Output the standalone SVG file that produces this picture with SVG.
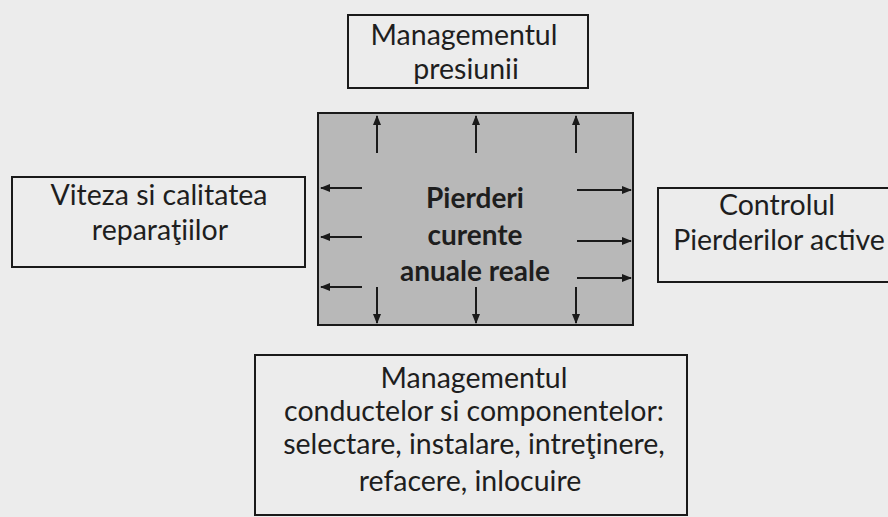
<svg xmlns="http://www.w3.org/2000/svg" width="888" height="517" viewBox="0 0 888 517">
<defs>
<marker id="ah" markerWidth="10" markerHeight="8" refX="9" refY="4" orient="auto" markerUnits="userSpaceOnUse">
<path d="M0,0 L10,4 L0,8 Z" fill="#1a1a1a"/>
</marker>
</defs>
<style>
.box{fill:none;stroke:#1a1a1a;stroke-width:2}
.t{font-family:Lato,"Liberation Sans",sans-serif;font-size:28.5px;fill:#1e1e1e;text-anchor:middle}
.b{font-weight:bold;font-size:28px}
.a{stroke:#1a1a1a;stroke-width:2;fill:none;marker-end:url(#ah)}
</style>
<rect width="888" height="517" fill="#ececec"/>
<g id="center">
<rect x="318" y="113" width="315" height="212" fill="#b8b8b8" stroke="#1a1a1a" stroke-width="2"/>
<text class="t b" x="475" y="208">Pierderi</text>
<text class="t b" x="475" y="245">curente</text>
<text class="t b" x="475" y="281">anuale reale</text>
</g>
<g id="top">
<rect class="box" x="348" y="15" width="240" height="73"/>
<text class="t" x="464" y="45">Managementul</text>
<text class="t" x="466" y="79">presiunii</text>
</g>
<g id="left">
<rect class="box" x="12" y="177" width="293" height="90"/>
<text class="t" x="159" y="205">Viteza si  calitatea</text>
<text class="t" x="160" y="240">reparaţiilor</text>
</g>
<g id="right">
<rect class="box" x="658" y="188" width="240" height="94"/>
<text class="t" x="777" y="215">Controlul</text>
<text class="t" x="779" y="250">Pierderilor active</text>
</g>
<g id="bottom">
<rect class="box" x="255" y="355" width="432" height="160"/>
<text class="t" x="474" y="388">Managementul</text>
<text class="t" x="474" y="421">conductelor si componentelor:</text>
<text class="t" x="474" y="454">selectare, instalare, intreţinere,</text>
<text class="t" x="470" y="491">refacere, inlocuire</text>
</g>
<g id="connectors">
<line class="a" x1="377" y1="153" x2="377" y2="116"/>
<line class="a" x1="476" y1="153" x2="476" y2="116"/>
<line class="a" x1="576" y1="153" x2="576" y2="116"/>
<line class="a" x1="377" y1="287" x2="377" y2="323"/>
<line class="a" x1="476" y1="287" x2="476" y2="323"/>
<line class="a" x1="576" y1="287" x2="576" y2="323"/>
<line class="a" x1="362" y1="188" x2="321" y2="188"/>
<line class="a" x1="362" y1="237" x2="321" y2="237"/>
<line class="a" x1="362" y1="287" x2="321" y2="287"/>
<line class="a" x1="577" y1="190" x2="631" y2="190"/>
<line class="a" x1="577" y1="241" x2="631" y2="241"/>
<line class="a" x1="577" y1="278" x2="631" y2="278"/>
</g>
</svg>
